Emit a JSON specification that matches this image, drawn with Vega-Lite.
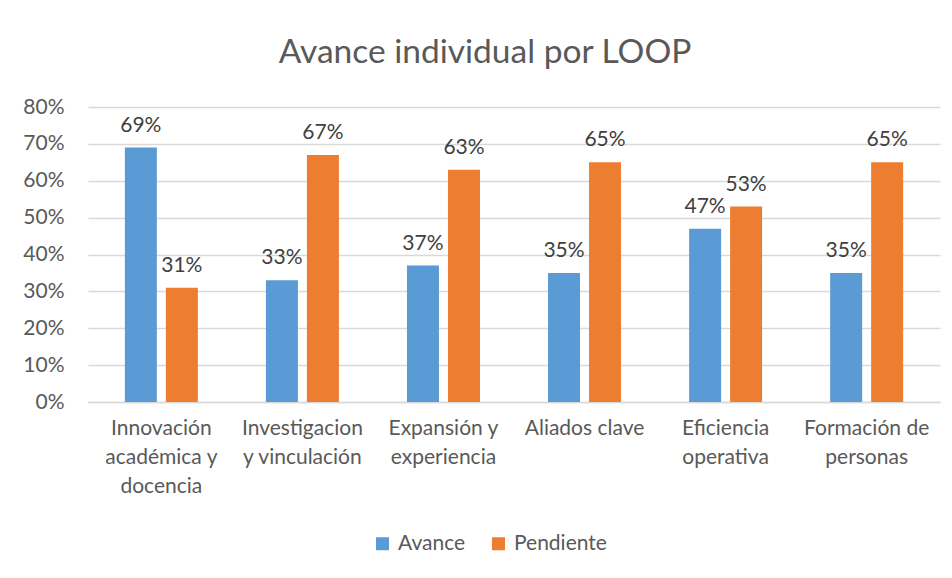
{
  "$schema": "https://vega.github.io/schema/vega-lite/v6.json",
  "autosize": "none",
  "width": 852,
  "height": 295,
  "padding": {"left": 88, "top": 107, "right": 12, "bottom": 176},
  "background": "white",
  "title": {
    "text": "Avance individual por LOOP",
    "fontSize": 33.5,
    "font": "Lato",
    "fontWeight": "normal",
    "color": "#595959",
    "anchor": "middle",
    "dx": -29,
    "offset": 26
  },
  "data": {
    "values": [
      {"category": "Innovación académica y docencia", "serie": "Avance", "value": 0.69},
      {"category": "Innovación académica y docencia", "serie": "Pendiente", "value": 0.31},
      {"category": "Investigacion y vinculación", "serie": "Avance", "value": 0.33},
      {"category": "Investigacion y vinculación", "serie": "Pendiente", "value": 0.67},
      {"category": "Expansión y experiencia", "serie": "Avance", "value": 0.37},
      {"category": "Expansión y experiencia", "serie": "Pendiente", "value": 0.63},
      {"category": "Aliados clave", "serie": "Avance", "value": 0.35},
      {"category": "Aliados clave", "serie": "Pendiente", "value": 0.65},
      {"category": "Eficiencia operativa", "serie": "Avance", "value": 0.47},
      {"category": "Eficiencia operativa", "serie": "Pendiente", "value": 0.53},
      {"category": "Formación de personas", "serie": "Avance", "value": 0.35},
      {"category": "Formación de personas", "serie": "Pendiente", "value": 0.65}
    ]
  },
  "encoding": {
    "x": {
      "field": "category",
      "type": "nominal",
      "sort": null,
      "scale": {"paddingInner": 0, "paddingOuter": 0.02},
      "axis": {
        "title": null,
        "labelAngle": 0,
        "labelFont": "Lato",
        "labelFontSize": 21,
        "labelColor": "#595959",
        "labelPadding": 15,
        "labelLineHeight": 29,
        "labelBaseline": "top",
        "labelOverlap": false,
        "labelLimit": 200,
        "ticks": false,
        "domainColor": "#D9D9D9",
        "domainWidth": 1.5,
        "labelExpr": "datum.label == 'Innovación académica y docencia' ? ['Innovación', 'académica y', 'docencia'] : datum.label == 'Investigacion y vinculación' ? ['Investigacion', 'y vinculación'] : datum.label == 'Expansión y experiencia' ? ['Expansión y', 'experiencia'] : datum.label == 'Eficiencia operativa' ? ['Eficiencia', 'operativa'] : datum.label == 'Formación de personas' ? ['Formación de', 'personas'] : datum.label"
      }
    },
    "xOffset": {
      "field": "serie",
      "type": "nominal",
      "scale": {"paddingInner": 0.22, "paddingOuter": 0.83}
    },
    "y": {
      "field": "value",
      "type": "quantitative",
      "scale": {"domain": [0, 0.8]},
      "axis": {
        "title": null,
        "format": ".0%",
        "values": [0, 0.1, 0.2, 0.3, 0.4, 0.5, 0.6, 0.7, 0.8],
        "labelOverlap": false,
        "labelFont": "Lato",
        "labelFontSize": 21,
        "labelColor": "#595959",
        "labelPadding": 24,
        "ticks": false,
        "domain": false,
        "gridColor": "#D9D9D9",
        "gridWidth": 1.5
      }
    }
  },
  "layer": [
    {
      "mark": {"type": "bar", "width": 32},
      "encoding": {
        "color": {
          "field": "serie",
          "type": "nominal",
          "scale": {"domain": ["Avance", "Pendiente"], "range": ["#5B9BD5", "#ED7D31"]},
          "legend": {
            "title": null,
            "orient": "none",
            "direction": "horizontal",
            "legendX": 284,
            "legendY": 426,
            "symbolType": "square",
            "symbolSize": 169,
            "symbolStrokeWidth": 0,
            "labelFont": "Lato",
            "labelFontSize": 21,
            "labelColor": "#595959",
            "columnPadding": 22,
            "labelOffset": 5
          }
        }
      }
    },
    {
      "mark": {"type": "text", "baseline": "bottom", "dy": -12, "font": "Lato", "fontSize": 21, "color": "#404040"},
      "encoding": {
        "text": {"field": "value", "type": "quantitative", "format": ".0%"}
      }
    }
  ],
  "config": {"view": {"stroke": null}}
}
